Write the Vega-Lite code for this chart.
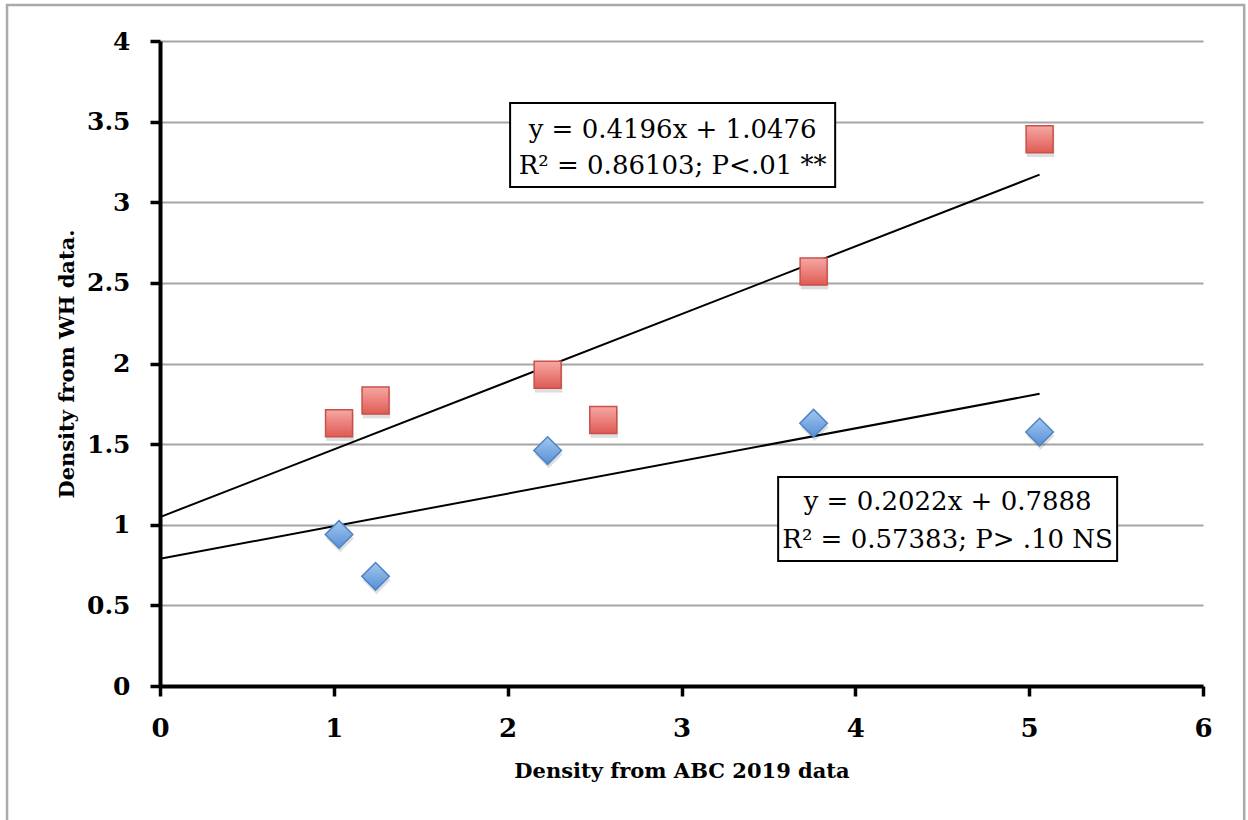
{
  "$schema": "https://vega.github.io/schema/vega-lite/v6.json",
  "width": 1043,
  "height": 645,
  "autosize": {"type": "none"},
  "padding": {"left": 160, "top": 41, "right": 45, "bottom": 134},
  "background": "white",
  "config": {"view": {"stroke": null}},
  "datasets": {
    "points": [
      {"set": "red", "x": 1.03, "y": 1.63},
      {"set": "red", "x": 1.24, "y": 1.77},
      {"set": "red", "x": 2.23, "y": 1.93},
      {"set": "red", "x": 2.55, "y": 1.65},
      {"set": "red", "x": 3.76, "y": 2.57},
      {"set": "red", "x": 5.06, "y": 3.39},
      {"set": "blue", "x": 1.03, "y": 0.94},
      {"set": "blue", "x": 1.24, "y": 0.68},
      {"set": "blue", "x": 2.23, "y": 1.46},
      {"set": "blue", "x": 3.76, "y": 1.63},
      {"set": "blue", "x": 5.06, "y": 1.575}
    ],
    "trend": [
      {"set": "red", "x": 0, "y": 1.0476},
      {"set": "red", "x": 5.06, "y": 3.171},
      {"set": "blue", "x": 0, "y": 0.7888},
      {"set": "blue", "x": 5.06, "y": 1.812}
    ],
    "one": [{}]
  },
  "layer": [
    {
      "data": {"name": "trend"},
      "mark": {"type": "line", "color": "black", "strokeWidth": 2},
      "encoding": {
        "x": {
          "field": "x", "type": "quantitative",
          "scale": {"domain": [0, 6], "nice": false, "zero": false},
          "title": "Density from ABC 2019 data",
          "axis": {
            "values": [0, 1, 2, 3, 4, 5, 6], "format": "~g", "grid": false,
            "domainColor": "black", "domainWidth": 4, "tickColor": "black", "tickWidth": 3.5, "tickSize": 10,
            "labelFont": "DejaVu Serif", "labelFontWeight": "bold", "labelFontSize": 26, "labelColor": "black", "labelPadding": 19, "labelFlush": false,
            "titleFont": "DejaVu Serif", "titleFontWeight": "bold", "titleFontSize": 21, "titleColor": "black", "titlePadding": 19
          }
        },
        "y": {
          "field": "y", "type": "quantitative",
          "scale": {"domain": [0, 4], "nice": false, "zero": false},
          "title": "Density from WH  data.",
          "axis": {
            "values": [0, 0.5, 1, 1.5, 2, 2.5, 3, 3.5, 4], "format": "~g", "grid": true, "gridColor": "#a5a5a5", "gridWidth": 2,
            "domainColor": "black", "domainWidth": 4, "tickColor": "black", "tickWidth": 3.5, "tickSize": 10,
            "labelFont": "DejaVu Serif", "labelFontWeight": "bold", "labelFontSize": 25, "labelColor": "black", "labelPadding": 20, "labelFlush": false,
            "titleFont": "DejaVu Serif", "titleFontWeight": "bold", "titleFontSize": 21, "titleColor": "black", "titlePadding": 9
          }
        },
        "detail": {"field": "set"}
      }
    },
    {
      "data": {"name": "points"},
      "mark": {"type": "point", "filled": true, "fill": "#000000", "opacity": 0.13, "size": 760, "yOffset": 4, "xOffset": 1, "strokeWidth": 0},
      "encoding": {
        "x": {"field": "x", "type": "quantitative", "scale": {"domain": [0, 6], "nice": false, "zero": false}, "title": "Density from ABC 2019 data"},
        "y": {"field": "y", "type": "quantitative", "scale": {"domain": [0, 4], "nice": false, "zero": false}, "title": "Density from WH  data."},
        "shape": {"field": "set", "type": "nominal", "scale": {"domain": ["red", "blue"], "range": ["square", "diamond"]}, "legend": null}
      }
    },
    {
      "data": {"name": "points"},
      "transform": [{"filter": "datum.set === 'red'"}],
      "mark": {
        "type": "point",
        "shape": "square",
        "filled": true,
        "size": 729,
        "opacity": 1,
        "fill": {"gradient": "linear", "x1": 0, "y1": 0, "x2": 0, "y2": 1, "stops": [{"offset": 0, "color": "#f6a7a3"}, {"offset": 1, "color": "#df5b55"}]},
        "stroke": "#c8504b",
        "strokeWidth": 1.5
      },
      "encoding": {
        "x": {"field": "x", "type": "quantitative", "scale": {"domain": [0, 6], "nice": false, "zero": false}, "title": "Density from ABC 2019 data"},
        "y": {"field": "y", "type": "quantitative", "scale": {"domain": [0, 4], "nice": false, "zero": false}, "title": "Density from WH  data."}
      }
    },
    {
      "data": {"name": "points"},
      "transform": [{"filter": "datum.set === 'blue'"}],
      "mark": {
        "type": "point",
        "shape": "diamond",
        "filled": true,
        "size": 760,
        "opacity": 1,
        "fill": {"gradient": "linear", "x1": 0, "y1": 0, "x2": 0, "y2": 1, "stops": [{"offset": 0, "color": "#a3c7f0"}, {"offset": 1, "color": "#5690d6"}]},
        "stroke": "#4f84c4",
        "strokeWidth": 1.5
      },
      "encoding": {
        "x": {"field": "x", "type": "quantitative", "scale": {"domain": [0, 6], "nice": false, "zero": false}, "title": "Density from ABC 2019 data"},
        "y": {"field": "y", "type": "quantitative", "scale": {"domain": [0, 4], "nice": false, "zero": false}, "title": "Density from WH  data."}
      }
    },
    {
      "data": {"name": "one"},
      "mark": {"type": "rect", "fill": "white", "stroke": "black", "strokeWidth": 2},
      "encoding": {
        "x": {"datum": 2.014, "type": "quantitative", "scale": {"domain": [0, 6], "nice": false, "zero": false}, "title": "Density from ABC 2019 data"},
        "x2": {"datum": 3.884},
        "y": {"datum": 3.616, "type": "quantitative", "scale": {"domain": [0, 4], "nice": false, "zero": false}, "title": "Density from WH  data."},
        "y2": {"datum": 3.095}
      }
    },
    {
      "data": {"name": "one"},
      "mark": {"type": "rect", "fill": "white", "stroke": "black", "strokeWidth": 2},
      "encoding": {
        "x": {"datum": 3.556, "type": "quantitative", "scale": {"domain": [0, 6], "nice": false, "zero": false}, "title": "Density from ABC 2019 data"},
        "x2": {"datum": 5.506},
        "y": {"datum": 1.296, "type": "quantitative", "scale": {"domain": [0, 4], "nice": false, "zero": false}, "title": "Density from WH  data."},
        "y2": {"datum": 0.775}
      }
    },
    {
      "data": {"name": "one"},
      "mark": {"type": "text", "font": "DejaVu Serif", "fontSize": 26, "color": "black", "align": "center", "baseline": "middle"},
      "encoding": {
        "x": {"datum": 2.949, "type": "quantitative", "scale": {"domain": [0, 6], "nice": false, "zero": false}, "title": "Density from ABC 2019 data"},
        "y": {"datum": 3.448, "type": "quantitative", "scale": {"domain": [0, 4], "nice": false, "zero": false}, "title": "Density from WH  data."},
        "text": {"value": "y = 0.4196x + 1.0476"}
      }
    },
    {
      "data": {"name": "one"},
      "mark": {"type": "text", "font": "DejaVu Serif", "fontSize": 26, "color": "black", "align": "center", "baseline": "middle"},
      "encoding": {
        "x": {"datum": 2.949, "type": "quantitative", "scale": {"domain": [0, 6], "nice": false, "zero": false}, "title": "Density from ABC 2019 data"},
        "y": {"datum": 3.225, "type": "quantitative", "scale": {"domain": [0, 4], "nice": false, "zero": false}, "title": "Density from WH  data."},
        "text": {"value": "R² = 0.86103; P<.01 **"}
      }
    },
    {
      "data": {"name": "one"},
      "mark": {"type": "text", "font": "DejaVu Serif", "fontSize": 26, "color": "black", "align": "center", "baseline": "middle"},
      "encoding": {
        "x": {"datum": 4.531, "type": "quantitative", "scale": {"domain": [0, 6], "nice": false, "zero": false}, "title": "Density from ABC 2019 data"},
        "y": {"datum": 1.141, "type": "quantitative", "scale": {"domain": [0, 4], "nice": false, "zero": false}, "title": "Density from WH  data."},
        "text": {"value": "y = 0.2022x + 0.7888"}
      }
    },
    {
      "data": {"name": "one"},
      "mark": {"type": "text", "font": "DejaVu Serif", "fontSize": 26, "color": "black", "align": "center", "baseline": "middle"},
      "encoding": {
        "x": {"datum": 4.531, "type": "quantitative", "scale": {"domain": [0, 6], "nice": false, "zero": false}, "title": "Density from ABC 2019 data"},
        "y": {"datum": 0.905, "type": "quantitative", "scale": {"domain": [0, 4], "nice": false, "zero": false}, "title": "Density from WH  data."},
        "text": {"value": "R² = 0.57383; P> .10 NS"}
      }
    },
    {
      "data": {"name": "one"},
      "mark": {"type": "rect", "fill": "transparent", "stroke": "#aaaaaa", "strokeWidth": 2.5, "clip": false},
      "encoding": {
        "x": {"datum": -0.88, "type": "quantitative", "scale": {"domain": [0, 6], "nice": false, "zero": false}, "title": "Density from ABC 2019 data"},
        "x2": {"datum": 6.237},
        "y": {"datum": 4.223, "type": "quantitative", "scale": {"domain": [0, 4], "nice": false, "zero": false}, "title": "Density from WH  data."},
        "y2": {"datum": -0.86}
      }
    }
  ]
}
